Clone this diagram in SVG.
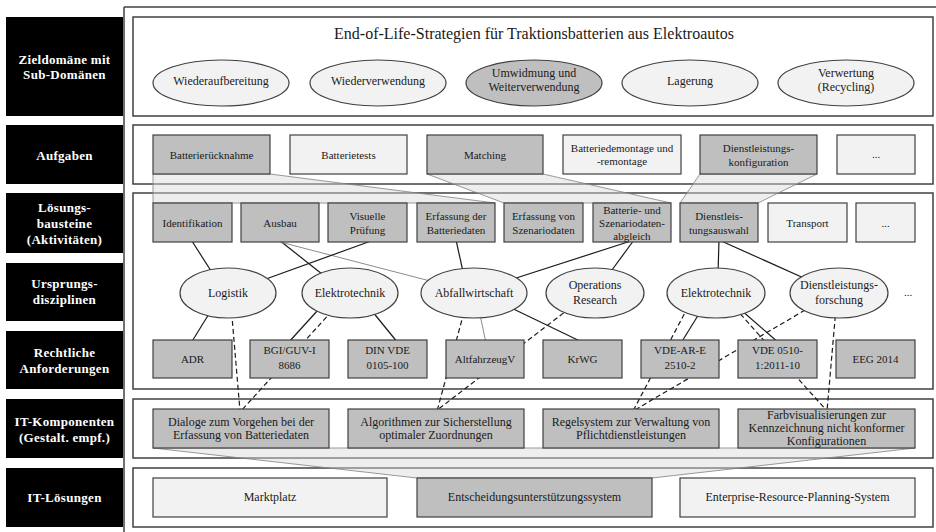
<svg xmlns="http://www.w3.org/2000/svg" width="936" height="532" viewBox="0 0 936 532">
<style>
.lane{fill:#fff;stroke:#404040;stroke-width:1.5}
.blk{fill:#000}
.lt{font-family:"Liberation Serif",serif;font-weight:bold;font-size:13px;fill:#fff;text-anchor:middle;letter-spacing:0.3px}
.g{fill:#bfbfbf;stroke:#404040;stroke-width:1.2}
.l{fill:#f2f2f2;stroke:#404040;stroke-width:1.2}
.t{font-family:"Liberation Serif",serif;font-size:11px;fill:#1a1a1a;text-anchor:middle}
.t12{font-size:12px}
.c{stroke:#1a1a1a;stroke-width:1.2;fill:none}
.cg{stroke:#8c8c8c;stroke-width:1;fill:none}
.d{stroke-dasharray:5 3}
.band{fill:#d9d9d9;fill-opacity:0.45;stroke:#808080;stroke-width:0.8}
</style>
<g id="frame">
<line x1="124" y1="7" x2="124" y2="532" stroke="#404040" stroke-width="1.5"/>
<line x1="124" y1="7" x2="936" y2="7" stroke="#404040" stroke-width="1.5"/>
</g>
<g id="labels">
<rect class="blk" x="6" y="17" width="117" height="99"/>
<text class="lt"><tspan x="64.5" y="64">Zieldomäne mit</tspan><tspan x="64.5" y="79">Sub-Domänen</tspan></text>
<rect class="blk" x="6" y="125" width="117" height="59"/>
<text class="lt" x="64.5" y="160">Aufgaben</text>
<rect class="blk" x="6" y="193" width="117" height="60"/>
<text class="lt"><tspan x="64.5" y="212">Lösungs-</tspan><tspan x="64.5" y="228">bausteine</tspan><tspan x="64.5" y="244">(Aktivitäten)</tspan></text>
<rect class="blk" x="6" y="263" width="117" height="58"/>
<text class="lt"><tspan x="64.5" y="288">Ursprungs-</tspan><tspan x="64.5" y="304">disziplinen</tspan></text>
<rect class="blk" x="6" y="331" width="117" height="58"/>
<text class="lt"><tspan x="64.5" y="357">Rechtliche</tspan><tspan x="64.5" y="373">Anforderungen</tspan></text>
<rect class="blk" x="6" y="399" width="117" height="59"/>
<text class="lt"><tspan x="64.5" y="426">IT-Komponenten</tspan><tspan x="64.5" y="442">(Gestalt. empf.)</tspan></text>
<rect class="blk" x="6" y="468" width="117" height="59"/>
<text class="lt" x="64.5" y="502">IT-Lösungen</text>
</g>
<g id="lanes">
<rect class="lane" x="133" y="17" width="800" height="99"/>
<rect class="lane" x="133" y="125" width="800" height="59"/>
<rect class="lane" x="133" y="193" width="800" height="196"/>
<rect class="lane" x="133" y="399" width="800" height="59"/>
<rect class="lane" x="133" y="468" width="800" height="59"/>
</g>
<g id="bands">
<polygon class="band" points="153,174 270,174 495,203 153,203"/>
<polygon class="band" points="427,174 543,174 671,203 504,203"/>
<polygon class="band" points="700,174 817,174 758,203 680,203"/>
<polygon class="band" points="153,448 915,448 652,478 417,478"/>
</g>
<g id="connectors">
<line class="c" x1="190" y1="238" x2="213" y2="274"/>
<line class="c" x1="279" y1="240" x2="322" y2="274"/>
<line class="cg" x1="280" y1="242" x2="434" y2="282"/>
<line class="c" x1="371" y1="241" x2="266" y2="279"/>
<line class="c" x1="456" y1="240" x2="464" y2="276"/>
<line class="c" x1="510" y1="280" x2="634" y2="240"/>
<line class="c" x1="609" y1="274" x2="634" y2="240"/>
<line class="c" x1="719" y1="240" x2="718" y2="274"/>
<line class="c" x1="719" y1="240" x2="806" y2="279"/>
<line class="c" x1="212" y1="309" x2="191" y2="343"/>
<line class="c" x1="318" y1="310" x2="288" y2="343"/>
<line class="c" x1="372" y1="311" x2="398" y2="343"/>
<line class="cg" x1="479" y1="310" x2="486" y2="343"/>
<line class="c" x1="505" y1="305" x2="584" y2="343"/>
<line class="c" x1="702" y1="309" x2="681" y2="343"/>
<line class="c" x1="741" y1="310" x2="779" y2="343"/>
<line class="c d" x1="231" y1="305" x2="240" y2="411"/>
<line class="c d" x1="332" y1="311" x2="241" y2="411"/>
<line class="c d" x1="466" y1="305" x2="437" y2="411"/>
<line class="c d" x1="570" y1="308" x2="436" y2="411"/>
<line class="c d" x1="688" y1="307" x2="633" y2="411"/>
<line class="c d" x1="735" y1="308" x2="827" y2="411"/>
<line class="c d" x1="812" y1="306" x2="633" y2="411"/>
<line class="c d" x1="836" y1="308" x2="827" y2="411"/>
</g>
<g id="domain">
<text class="t" x="534" y="39" style="font-size:16px">End-of-Life-Strategien für Traktionsbatterien aus Elektroautos</text>
</g>
<g id="sd-wiederaufbereitung"><ellipse class="l" cx="221" cy="83" rx="68" ry="23"/><text class="t t12" x="221" y="85">Wiederaufbereitung</text></g>
<g id="sd-wiederverwendung"><ellipse class="l" cx="378" cy="83" rx="68" ry="23"/><text class="t t12" x="378" y="85">Wiederverwendung</text></g>
<g id="sd-umwidmung"><ellipse class="g" cx="534" cy="83" rx="68" ry="23"/><text class="t t12"><tspan x="534" y="77">Umwidmung und</tspan><tspan x="534" y="91">Weiterverwendung</tspan></text></g>
<g id="sd-lagerung"><ellipse class="l" cx="690" cy="83" rx="68" ry="23"/><text class="t t12" x="690" y="85">Lagerung</text></g>
<g id="sd-verwertung"><ellipse class="l" cx="846" cy="83" rx="68" ry="23"/><text class="t t12"><tspan x="846" y="77">Verwertung</tspan><tspan x="846" y="91">(Recycling)</tspan></text></g>

<g id="a-ruecknahme"><rect class="g" x="153" y="135" width="117" height="39"/><text class="t" x="211.5" y="159">Batterierücknahme</text></g>
<g id="a-tests"><rect class="l" x="290" y="135" width="117" height="39"/><text class="t" x="348.5" y="159">Batterietests</text></g>
<g id="a-matching"><rect class="g" x="427" y="135" width="116" height="39"/><text class="t" x="485" y="159">Matching</text></g>
<g id="a-demontage"><rect class="l" x="563" y="135" width="118" height="39"/><text class="t"><tspan x="622" y="152">Batteriedemontage und</tspan><tspan x="622" y="165">-remontage</tspan></text></g>
<g id="a-konfiguration"><rect class="g" x="700" y="135" width="117" height="39"/><text class="t"><tspan x="758.5" y="152">Dienstleistungs-</tspan><tspan x="758.5" y="166">konfiguration</tspan></text></g>
<g id="a-more"><rect class="l" x="837" y="135" width="78" height="39"/><text class="t" x="876" y="158">...</text></g>

<g id="b-identifikation"><rect class="g" x="153" y="203" width="79" height="39"/><text class="t" x="192.5" y="227">Identifikation</text></g>
<g id="b-ausbau"><rect class="g" x="241" y="203" width="78" height="39"/><text class="t" x="280" y="227">Ausbau</text></g>
<g id="b-pruefung"><rect class="g" x="328" y="203" width="79" height="39"/><text class="t"><tspan x="367.5" y="220">Visuelle</tspan><tspan x="367.5" y="234">Prüfung</tspan></text></g>
<g id="b-batteriedaten"><rect class="g" x="417" y="203" width="78" height="39"/><text class="t"><tspan x="456" y="220">Erfassung der</tspan><tspan x="456" y="234">Batteriedaten</tspan></text></g>
<g id="b-szenariodaten"><rect class="g" x="504" y="203" width="79" height="39"/><text class="t"><tspan x="543.5" y="220">Erfassung von</tspan><tspan x="543.5" y="234">Szenariodaten</tspan></text></g>
<g id="b-abgleich"><rect class="g" x="593" y="203" width="78" height="39"/><text class="t"><tspan x="632" y="214">Batterie- und</tspan><tspan x="632" y="227">Szenariodaten-</tspan><tspan x="632" y="240">abgleich</tspan></text></g>
<g id="b-auswahl"><rect class="g" x="680" y="203" width="78" height="39"/><text class="t"><tspan x="719" y="220">Dienstleis-</tspan><tspan x="719" y="234">tungsauswahl</tspan></text></g>
<g id="b-transport"><rect class="l" x="768" y="203" width="79" height="39"/><text class="t" x="807.5" y="227">Transport</text></g>
<g id="b-more"><rect class="l" x="856" y="203" width="59" height="39"/><text class="t" x="885.5" y="227">...</text></g>

<g id="d-logistik"><ellipse class="l" cx="228" cy="293" rx="48" ry="25"/><text class="t t12" x="228" y="297">Logistik</text></g>
<g id="d-elektrotechnik1"><ellipse class="l" cx="350" cy="293" rx="48" ry="25"/><text class="t t12" x="350" y="297">Elektrotechnik</text></g>
<g id="d-abfallwirtschaft"><ellipse class="l" cx="474" cy="293" rx="53" ry="25"/><text class="t t12" x="474" y="297">Abfallwirtschaft</text></g>
<g id="d-or"><ellipse class="l" cx="595" cy="293" rx="49" ry="25"/><text class="t t12"><tspan x="595" y="289">Operations</tspan><tspan x="595" y="304">Research</tspan></text></g>
<g id="d-elektrotechnik2"><ellipse class="l" cx="716" cy="293" rx="49" ry="25"/><text class="t t12" x="716" y="297">Elektrotechnik</text></g>
<g id="d-dienstleistungsforschung"><ellipse class="l" cx="839" cy="293" rx="49" ry="25"/><text class="t t12"><tspan x="839" y="289">Dienstleistungs-</tspan><tspan x="839" y="304">forschung</tspan></text></g>
<g id="d-more"><text class="t" x="908" y="296">...</text></g>

<g id="r-adr"><rect class="g" x="153" y="340" width="79" height="38"/><text class="t" x="192.5" y="363">ADR</text></g>
<g id="r-bgi"><rect class="g" x="250" y="340" width="79" height="38"/><text class="t"><tspan x="289.5" y="354">BGI/GUV-I</tspan><tspan x="289.5" y="369">8686</tspan></text></g>
<g id="r-dinvde"><rect class="g" x="348" y="340" width="79" height="38"/><text class="t"><tspan x="387.5" y="354">DIN VDE</tspan><tspan x="387.5" y="369">0105-100</tspan></text></g>
<g id="r-altfahrzeugv"><rect class="g" x="446" y="340" width="78" height="38"/><text class="t" x="485" y="363">AltfahrzeugV</text></g>
<g id="r-krwg"><rect class="g" x="543" y="340" width="79" height="38"/><text class="t" x="582.5" y="363">KrWG</text></g>
<g id="r-vdeare"><rect class="g" x="641" y="340" width="78" height="38"/><text class="t"><tspan x="680" y="354">VDE-AR-E</tspan><tspan x="680" y="369">2510-2</tspan></text></g>
<g id="r-vde0510"><rect class="g" x="738" y="340" width="79" height="38"/><text class="t"><tspan x="777.5" y="354">VDE 0510-</tspan><tspan x="777.5" y="369">1:2011-10</tspan></text></g>
<g id="r-eeg"><rect class="g" x="836" y="340" width="79" height="38"/><text class="t" x="875.5" y="363">EEG 2014</text></g>

<g id="k-dialoge"><rect class="g" x="153" y="409" width="176" height="39"/><text class="t t12"><tspan x="241" y="426">Dialoge zum Vorgehen bei der</tspan><tspan x="241" y="439">Erfassung von Batteriedaten</tspan></text></g>
<g id="k-algorithmen"><rect class="g" x="348" y="409" width="176" height="39"/><text class="t t12"><tspan x="436" y="426">Algorithmen zur Sicherstellung</tspan><tspan x="436" y="439">optimaler Zuordnungen</tspan></text></g>
<g id="k-regelsystem"><rect class="g" x="543" y="409" width="176" height="39"/><text class="t t12"><tspan x="631" y="426">Regelsystem zur Verwaltung von</tspan><tspan x="631" y="439">Pflichtdienstleistungen</tspan></text></g>
<g id="k-farbvis"><rect class="g" x="738" y="409" width="177" height="39"/><text class="t t12"><tspan x="826.5" y="419">Farbvisualisierungen zur</tspan><tspan x="826.5" y="432">Kennzeichnung nicht konformer</tspan><tspan x="826.5" y="445">Konfigurationen</tspan></text></g>

<g id="s-marktplatz"><rect class="l" x="153" y="478" width="234" height="39"/><text class="t t12" x="270" y="501">Marktplatz</text></g>
<g id="s-eus"><rect class="g" x="417" y="478" width="235" height="39"/><text class="t t12" x="534.5" y="501">Entscheidungsunterstützungssystem</text></g>
<g id="s-erp"><rect class="l" x="680" y="478" width="235" height="39"/><text class="t t12" x="797.5" y="501">Enterprise-Resource-Planning-System</text></g>
</svg>
